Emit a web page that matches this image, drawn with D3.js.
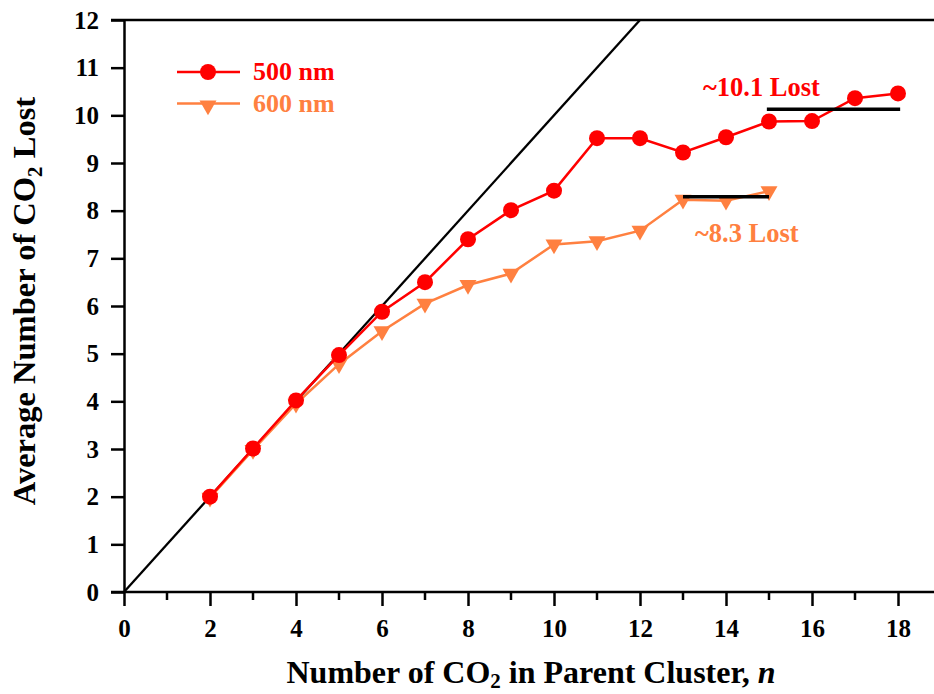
<!DOCTYPE html>
<meta charset="utf-8">
<style>
body { margin: 0; background: #fff; }
text { font-family: "Liberation Serif", "Times New Roman", serif; font-weight: bold; }
.tick text { font-size: 25px; }
</style>
<svg width="934" height="694"></svg>
<script src="https://d3js.org/d3.v7.min.js"></script>
<script>

// data
var n500 = [2,3,4,5,6,7,8,9,10,11,12,13,14,15,16,17,18];
var lost500 = [2.0,3.01,4.02,4.97,5.88,6.5,7.4,8.01,8.42,9.52,9.52,9.22,9.54,9.87,9.88,10.36,10.46];
var n600 = [2,3,4,5,6,7,8,9,10,11,12,13,14,15];
var lost600 = [1.98,2.98,3.95,4.78,5.47,6.05,6.44,6.68,7.29,7.36,7.58,8.23,8.21,8.41];
var plateauValues = [10.13, 8.29];
var plateauRanges = [[14.95, 18.05], [13, 15]];
var plateauLabels = ["~10.1 Lost", "~8.3 Lost"];
var xTicks = [0,2,4,6,8,10,12,14,16,18];
var xMinor = [1,3,5,7,9,11,13,15,17];
var yTicks = [0,1,2,3,4,5,6,7,8,9,10,11,12];

var red = "#ff0000", orange = "#ff8040";

var svg = d3.select("svg");

var x = d3.scaleLinear().domain([0, 19]).range([124, 124 + 19 * 43]);
var y = d3.scaleLinear().domain([0, 12]).range([592, 20]);

// frame: top line across
svg.append("line")
  .attr("x1", 111).attr("x2", 934).attr("y1", y(12)).attr("y2", y(12))
  .attr("stroke", "#000").attr("stroke-width", 2.5);

// x axis
var xAxis = svg.append("g")
  .attr("transform", "translate(0," + y(0) + ")")
  .call(d3.axisBottom(x).tickValues(xTicks).tickSize(14).tickPadding(13).tickSizeOuter(0));
xAxis.select(".domain").remove();
xAxis.attr("font-family", null).attr("font-size", null);
xAxis.selectAll(".tick line").attr("stroke-width", 2.5);
xAxis.selectAll(".tick text").attr("fill", "#000");
xAxis.append("line").attr("x1", 111).attr("x2", 934)
  .attr("stroke", "#000").attr("stroke-width", 2.5);
xAxis.selectAll(".minor").data(xMinor).enter().append("line")
  .attr("x1", d => x(d)).attr("x2", d => x(d))
  .attr("y1", 0).attr("y2", 8)
  .attr("stroke", "#000").attr("stroke-width", 2.5);

// y axis
var yAxis = svg.append("g")
  .attr("transform", "translate(" + x(0) + ",0)")
  .call(d3.axisLeft(y).tickValues(yTicks).tickSize(13).tickPadding(12).tickSizeOuter(0));
yAxis.attr("font-family", null).attr("font-size", null);
yAxis.select(".domain").attr("stroke-width", 2.5);
yAxis.selectAll(".tick line").attr("stroke-width", 2.5);
yAxis.selectAll(".tick text").attr("fill", "#000");

// y = x reference line
svg.append("line")
  .attr("x1", x(0)).attr("y1", y(0)).attr("x2", x(12)).attr("y2", y(12))
  .attr("stroke", "#000").attr("stroke-width", 2.3);

var line = d3.line().x(d => x(d[0])).y(d => y(d[1]));

// 600 nm series
var d600 = n600.map((n, i) => [n, lost600[i]]);
svg.append("path").datum(d600).attr("d", line)
  .attr("fill", "none").attr("stroke", orange).attr("stroke-width", 2.5);
var tri = d3.symbol().type(d3.symbolTriangle).size(125);
svg.selectAll(".t600").data(d600).enter().append("path")
  .attr("d", tri)
  .attr("transform", d => "translate(" + x(d[0]) + "," + y(d[1]) + ") rotate(180)")
  .attr("fill", orange);

// 500 nm series
var d500 = n500.map((n, i) => [n, lost500[i]]);
svg.append("path").datum(d500).attr("d", line)
  .attr("fill", "none").attr("stroke", red).attr("stroke-width", 2.5);
svg.selectAll(".c500").data(d500).enter().append("circle")
  .attr("cx", d => x(d[0])).attr("cy", d => y(d[1])).attr("r", 8)
  .attr("fill", red);

// plateau markers
plateauValues.forEach(function(v, i) {
  svg.append("line")
    .attr("x1", x(plateauRanges[i][0])).attr("x2", x(plateauRanges[i][1]))
    .attr("y1", y(v)).attr("y2", y(v))
    .attr("stroke", "#000").attr("stroke-width", 3.5);
});
svg.append("text").attr("x", 703).attr("y", 96)
  .attr("font-size", 26.5).attr("fill", red).text(plateauLabels[0]);
svg.append("text").attr("x", 695).attr("y", 242)
  .attr("font-size", 26.5).attr("fill", orange).text(plateauLabels[1]);

// legend
var legend = [["500 nm", red, "circle"], ["600 nm", orange, "tri"]];
legend.forEach(function(l, i) {
  var ly = 72 + i * 31.5;
  svg.append("line").attr("x1", 177).attr("x2", 240).attr("y1", ly).attr("y2", ly)
    .attr("stroke", l[1]).attr("stroke-width", 2.5);
  if (l[2] === "circle") {
    svg.append("circle").attr("cx", 208).attr("cy", ly).attr("r", 8).attr("fill", l[1]);
  } else {
    svg.append("path").attr("d", tri)
      .attr("transform", "translate(208," + (ly + 2) + ") rotate(180)").attr("fill", l[1]);
  }
  svg.append("text").attr("x", 253).attr("y", ly + 8)
    .attr("font-size", 26).attr("fill", l[1]).text(l[0]);
});

// axis titles
var xt = svg.append("text").attr("x", 531).attr("y", 683)
  .attr("text-anchor", "middle").attr("font-size", 32).attr("fill", "#000");
xt.append("tspan").text("Number of CO");
xt.append("tspan").attr("font-size", 21).attr("dy", 5).text("2");
xt.append("tspan").attr("dy", -5).text(" in Parent Cluster, ");
xt.append("tspan").attr("font-style", "italic").text("n");

var yt = svg.append("text").attr("transform", "translate(35,301) rotate(-90)")
  .attr("text-anchor", "middle").attr("font-size", 32.5).attr("fill", "#000");
yt.append("tspan").text("Average Number of CO");
yt.append("tspan").attr("font-size", 21).attr("dy", 7).text("2");
yt.append("tspan").attr("dy", -7).text(" Lost");

</script>
